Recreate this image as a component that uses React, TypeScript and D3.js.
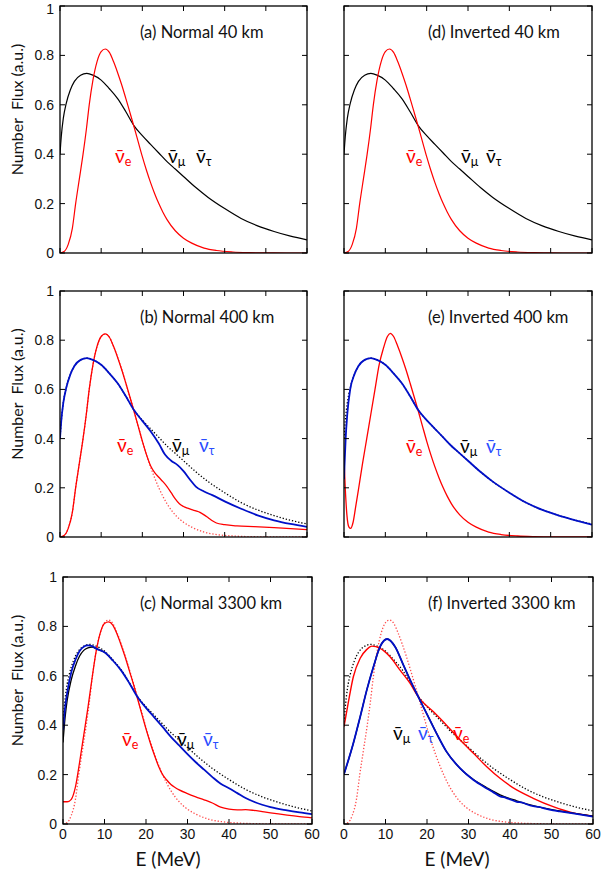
import React from "react";
import * as d3 from "d3";

// ---------- DATA ----------
const TICKS_X = [0, 10, 20, 30, 40, 50, 60];
const TICKS_Y = [0, 0.2, 0.4, 0.6, 0.8, 1];
const TICK_LABELS_Y = ["0", "0.2", "0.4", "0.6", "0.8", "1"];

// original anti-nu_mu / anti-nu_tau spectrum (black)
const E_MU0 = [0, 0.3, 0.8, 1.5, 2.5, 3.5, 5, 6.5, 8, 10, 12, 14, 16, 18, 20, 22, 24, 26, 28, 30, 33, 36, 40, 44, 48, 52, 56, 60];
const F_MU0 = [0.40, 0.47, 0.545, 0.605, 0.66, 0.695, 0.72, 0.727, 0.72, 0.70, 0.665, 0.625, 0.572, 0.515, 0.475, 0.44, 0.405, 0.37, 0.34, 0.31, 0.265, 0.225, 0.18, 0.14, 0.11, 0.087, 0.068, 0.053];

// original anti-nu_e spectrum (red)
const E_E0 = [0, 1, 2, 3, 3.8, 4.7, 5.6, 6.4, 7.1, 8, 9, 10, 11, 12, 13, 14, 15, 16, 17, 18, 19, 20, 21, 22, 23, 24, 25, 26, 28, 30, 32, 35, 38, 42, 46, 50, 55, 60];
const F_E0 = [0, 0.006, 0.035, 0.1, 0.2, 0.3, 0.4, 0.5, 0.6, 0.7, 0.775, 0.815, 0.826, 0.812, 0.775, 0.73, 0.68, 0.625, 0.568, 0.51, 0.45, 0.39, 0.335, 0.285, 0.24, 0.2, 0.165, 0.135, 0.09, 0.06, 0.04, 0.02, 0.01, 0.004, 0.0015, 0.0005, 0, 0];

// (b) Normal 400 km
const E_B_TAU = [0, 0.3, 0.8, 1.5, 2.5, 3.5, 5, 6.5, 8, 10, 12, 14, 16, 18, 20, 22, 24, 25.5, 27, 28.5, 30, 31.5, 33, 35, 37, 40, 44, 48, 52, 56, 60];
const F_B_TAU = [0.40, 0.47, 0.545, 0.605, 0.66, 0.695, 0.72, 0.727, 0.72, 0.70, 0.665, 0.625, 0.572, 0.515, 0.472, 0.43, 0.38, 0.335, 0.31, 0.293, 0.268, 0.235, 0.205, 0.185, 0.17, 0.145, 0.115, 0.088, 0.068, 0.053, 0.041];
const E_B_E = [0, 1, 2, 3, 3.8, 4.7, 5.6, 6.4, 7.1, 8, 9, 10, 11, 12, 13, 14, 15, 16, 17, 18, 19, 20, 21, 22, 23, 24, 25, 26, 27, 28, 29, 30, 31, 32, 33, 34, 35, 36, 37, 38, 40, 43, 47, 52, 56, 60];
const F_B_E = [0, 0.006, 0.035, 0.1, 0.2, 0.3, 0.4, 0.5, 0.6, 0.7, 0.775, 0.815, 0.826, 0.812, 0.775, 0.73, 0.68, 0.625, 0.568, 0.51, 0.45, 0.39, 0.335, 0.29, 0.262, 0.243, 0.225, 0.205, 0.18, 0.155, 0.135, 0.124, 0.117, 0.111, 0.106, 0.1, 0.09, 0.078, 0.066, 0.057, 0.05, 0.045, 0.042, 0.038, 0.034, 0.03];

// (c) Normal 3300 km
const E_C_E = [0, 1, 2, 3, 4, 5, 6, 7, 8, 9, 10, 11, 12, 13, 14, 15, 16, 17, 18, 19, 20, 21, 22, 23, 24, 25, 26, 27, 28, 30, 32, 34, 36, 38, 40, 42, 44, 46, 48, 50, 54, 57, 60];
const F_C_E = [0.09, 0.09, 0.1, 0.15, 0.25, 0.36, 0.47, 0.59, 0.7, 0.775, 0.812, 0.818, 0.805, 0.77, 0.725, 0.675, 0.62, 0.565, 0.505, 0.445, 0.385, 0.33, 0.28, 0.235, 0.2, 0.178, 0.16, 0.148, 0.138, 0.123, 0.11, 0.098, 0.085, 0.068, 0.06, 0.057, 0.058, 0.055, 0.05, 0.045, 0.036, 0.03, 0.025];
const E_C_TAU = [0, 0.5, 1, 2, 3, 4, 5, 6, 7, 8, 10, 12, 14, 16, 18, 20, 22, 24, 26, 28, 30, 32, 34, 36, 38, 40, 42, 44, 46, 48, 50, 54, 57, 60];
const F_C_TAU = [0.38, 0.47, 0.53, 0.615, 0.665, 0.7, 0.718, 0.723, 0.72, 0.71, 0.695, 0.662, 0.622, 0.57, 0.513, 0.47, 0.432, 0.393, 0.353, 0.318, 0.283, 0.25, 0.22, 0.19, 0.163, 0.145, 0.125, 0.105, 0.09, 0.078, 0.068, 0.055, 0.047, 0.04];
const E_C_MU = [0, 0.5, 1, 2, 3, 4, 5, 6, 7, 8, 10, 12];
const F_C_MU = [0.33, 0.43, 0.5, 0.585, 0.64, 0.68, 0.703, 0.713, 0.716, 0.71, 0.695, 0.662];

// (e) Inverted 400 km
const E_E_TAU = [0, 0.15, 0.4, 0.8, 1.5, 2.5, 3.5, 5, 6.5, 8, 10, 12, 14, 16, 18, 20, 22, 24, 26, 28, 30, 33, 36, 40, 44, 48, 52, 56, 60];
const F_E_TAU = [0.235, 0.3, 0.4, 0.5, 0.6, 0.66, 0.695, 0.72, 0.727, 0.72, 0.70, 0.665, 0.625, 0.572, 0.515, 0.475, 0.44, 0.405, 0.37, 0.34, 0.31, 0.265, 0.225, 0.18, 0.14, 0.11, 0.087, 0.068, 0.05];
const E_E_E = [0, 0.3, 0.7, 1.2, 1.6, 2.2, 2.8, 3.5, 4.5, 5.5, 6.5, 7.5, 8.5, 9.5, 10.5, 11.2, 12, 13, 14, 15, 16, 17, 18, 19, 20, 21, 22, 23, 24, 25, 26, 28, 30, 32, 35, 38, 42, 46, 50, 55, 60];
const F_E_E = [0.32, 0.2, 0.09, 0.04, 0.035, 0.06, 0.12, 0.193, 0.3, 0.4, 0.5, 0.6, 0.7, 0.765, 0.815, 0.828, 0.815, 0.775, 0.73, 0.68, 0.625, 0.568, 0.51, 0.45, 0.39, 0.335, 0.285, 0.24, 0.2, 0.165, 0.135, 0.09, 0.06, 0.04, 0.02, 0.01, 0.004, 0.0015, 0.0005, 0, 0];

// (f) Inverted 3300 km
const E_F_E = [0, 1, 2.25, 3.9, 5.5, 6.7, 8.7, 11.1, 13.5, 15.9, 17.9, 21.5, 24.7, 28, 31.2, 34.4, 37.6, 41.6, 45.6, 50.4, 55.2, 60];
const F_F_E = [0.394, 0.488, 0.596, 0.671, 0.707, 0.72, 0.711, 0.677, 0.623, 0.57, 0.515, 0.455, 0.4, 0.34, 0.286, 0.232, 0.185, 0.138, 0.104, 0.07, 0.045, 0.032];
const E_F_TAU = [0, 2.25, 3.9, 5.5, 7.1, 8.7, 10.4, 12.3, 14.3, 16.3, 17.9, 19.9, 22.3, 24.7, 28, 31.2, 34.4, 36, 37.6, 39, 40, 41.6, 43, 44, 45.6, 47, 48.5, 50.4, 52, 55.2, 60];
const F_F_TAU = [0.202, 0.327, 0.434, 0.543, 0.637, 0.718, 0.749, 0.718, 0.644, 0.57, 0.515, 0.448, 0.367, 0.293, 0.225, 0.178, 0.144, 0.128, 0.112, 0.106, 0.1, 0.09, 0.087, 0.08, 0.072, 0.069, 0.062, 0.055, 0.051, 0.043, 0.03];
const E_F_MU = [0, 2.25, 3.9, 5.5, 7.1, 8.7, 10.4, 12.3, 14.3, 16.3, 17.9, 19.9, 22.3, 24.7, 28, 31.2, 34.4, 37.6, 41.6, 45.6, 50.4, 55.2, 60];
const F_F_MU = [0.202, 0.327, 0.434, 0.543, 0.637, 0.718, 0.749, 0.718, 0.644, 0.57, 0.515, 0.448, 0.367, 0.293, 0.225, 0.18, 0.147, 0.118, 0.094, 0.074, 0.057, 0.044, 0.032];

// ---------- STYLE ----------
const RED = "#ff0000";
const RED_DOT = "#ff4a4a";
const BLUE = "#0010c8";
const BLUE_TXT = "#2a4cff";
const BLACK = "#000";
const TICK_FONT = "'Liberation Sans', Arial, Helvetica, sans-serif";
const LABEL_FONT = "Lato, 'Open Sans', sans-serif";

type Series = { E: number[]; F: number[]; color: string; width: number; dotted?: boolean };
type Leg = { sub: string; x: number; color: string };

const solid = (E: number[], F: number[], color: string, width = 1.2): Series => ({ E, F, color, width });
const dotted = (E: number[], F: number[], color: string): Series => ({ E, F, color, width: 1.3, dotted: true });

const PANELS = [
  {
    id: "a", title: "(a) Normal 40 km", l: 60, r: 307, t: 6, b: 253, showY: true, showX: false, titleX: 140,
    legY: 163,
    legend: [{ sub: "e", x: 115, color: RED }, { sub: "μ", x: 168, color: BLACK }, { sub: "τ", x: 196, color: BLACK }],
    series: [solid(E_MU0, F_MU0, BLACK), solid(E_E0, F_E0, RED)],
  },
  {
    id: "d", title: "(d) Inverted 40 km", l: 344, r: 592, t: 6, b: 253, showY: false, showX: false, titleX: 428,
    legY: 163,
    legend: [{ sub: "e", x: 406, color: RED }, { sub: "μ", x: 461, color: BLACK }, { sub: "τ", x: 486, color: BLACK }],
    series: [solid(E_MU0, F_MU0, BLACK), solid(E_E0, F_E0, RED)],
  },
  {
    id: "b", title: "(b) Normal 400 km", l: 60, r: 307, t: 291, b: 537, showY: true, showX: false, titleX: 140,
    legY: 452,
    legend: [{ sub: "e", x: 117, color: RED }, { sub: "μ", x: 172, color: BLACK }, { sub: "τ", x: 199, color: BLUE_TXT }],
    series: [dotted(E_MU0, F_MU0, BLACK), dotted(E_E0, F_E0, RED_DOT), solid(E_B_E, F_B_E, RED, 1.3), solid(E_B_TAU, F_B_TAU, BLUE, 1.8)],
  },
  {
    id: "e", title: "(e) Inverted 400 km", l: 344, r: 592, t: 291, b: 537, showY: false, showX: false, titleX: 428,
    legY: 453,
    legend: [{ sub: "e", x: 406, color: RED }, { sub: "μ", x: 460, color: BLACK }, { sub: "τ", x: 486, color: BLUE_TXT }],
    series: [dotted(E_MU0, F_MU0, BLACK), solid(E_E_E, F_E_E, RED, 1.3), solid(E_E_TAU, F_E_TAU, BLUE, 1.8)],
  },
  {
    id: "c", title: "(c) Normal 3300 km", l: 63, r: 312, t: 577, b: 824, showY: true, showX: true, titleX: 140,
    legY: 746,
    legend: [{ sub: "e", x: 122, color: RED }, { sub: "μ", x: 177, color: BLACK }, { sub: "τ", x: 203, color: BLUE_TXT }],
    series: [dotted(E_MU0, F_MU0, BLACK), dotted(E_E0, F_E0, RED_DOT), solid(E_C_E, F_C_E, RED, 1.3), solid(E_C_MU, F_C_MU, BLACK, 1.3), solid(E_C_TAU, F_C_TAU, BLUE, 1.8)],
  },
  {
    id: "f", title: "(f) Inverted 3300 km", l: 344, r: 593, t: 577, b: 824, showY: false, showX: true, titleX: 428,
    legY: 740,
    legend: [{ sub: "μ", x: 393, color: BLACK }, { sub: "τ", x: 418, color: BLUE_TXT }, { sub: "e", x: 453, color: RED }],
    series: [dotted(E_MU0, F_MU0, BLACK), dotted(E_E0, F_E0, RED_DOT), solid(E_F_E, F_F_E, RED, 1.4), solid(E_F_MU, F_F_MU, BLACK, 1.3), solid(E_F_TAU, F_F_TAU, BLUE, 1.8)],
  },
];

function Panel({ p }: { p: (typeof PANELS)[number] }) {
  const x = d3.scaleLinear().domain([0, 60]).range([p.l, p.r]);
  const y = d3.scaleLinear().domain([0, 1]).range([p.b, p.t]);
  const line = d3
    .line<[number, number]>()
    .x((d) => x(d[0]))
    .y((d) => y(d[1]))
    .curve(d3.curveMonotoneX);
  const clipId = `clip-${p.id}`;
  const tl = 5;
  return (
    <g>
      <defs>
        <clipPath id={clipId}>
          <rect x={p.l} y={p.t} width={p.r - p.l} height={p.b - p.t} />
        </clipPath>
      </defs>
      <g clipPath={`url(#${clipId})`}>
        {p.series.map((s, i) => (
          <path
            key={i}
            d={line(s.E.map((e, k) => [e, s.F[k]] as [number, number])) || ""}
            fill="none"
            stroke={s.color}
            strokeWidth={s.width}
            strokeDasharray={s.dotted ? "1.3 1.9" : undefined}
            strokeLinejoin="round"
          />
        ))}
      </g>
      {TICKS_X.map((t) => (
        <g key={"x" + t}>
          <line x1={x(t)} x2={x(t)} y1={p.b} y2={p.b - tl} stroke="#000" strokeWidth={1} />
          <line x1={x(t)} x2={x(t)} y1={p.t} y2={p.t + tl} stroke="#000" strokeWidth={1} />
        </g>
      ))}
      {TICKS_Y.map((t) => (
        <g key={"y" + t}>
          <line x1={p.l} x2={p.l + tl} y1={y(t)} y2={y(t)} stroke="#000" strokeWidth={1} />
          <line x1={p.r} x2={p.r - tl} y1={y(t)} y2={y(t)} stroke="#000" strokeWidth={1} />
        </g>
      ))}
      <rect x={p.l} y={p.t} width={p.r - p.l} height={p.b - p.t} fill="none" stroke="#000" strokeWidth={1.3} />
      {p.showY &&
        TICKS_Y.map((t, i) => (
          <text key={"yl" + t} x={p.l - 6} y={Math.max(y(t), 9)} dy="0.36em" textAnchor="end" fontFamily={TICK_FONT} fontSize={14} fill="#111">
            {TICK_LABELS_Y[i]}
          </text>
        ))}
      {p.showX &&
        TICKS_X.map((t) => (
          <text key={"xl" + t} x={x(t)} y={p.b + 15} textAnchor="middle" fontFamily={TICK_FONT} fontSize={14} fill="#111">
            {t}
          </text>
        ))}
      <text x={p.titleX} y={p.t + 32} fontFamily={LABEL_FONT} fontSize={16.5} fill="#111">
        {p.title}
      </text>
      {p.legend.map((lg: Leg, i: number) => (
        <text key={"lg" + i} x={lg.x} y={p.legY} fontFamily={LABEL_FONT} fill={lg.color}>
          <tspan fontSize={19}>{"\u03BD\u0304"}</tspan>
          <tspan fontSize={12.5} dy={3}>{lg.sub}</tspan>
        </text>
      ))}
    </g>
  );
}

export default function App() {
  return (
    <svg width={603} height={878} style={{ position: "absolute", left: 0, top: 0, background: "#fff" }}>
      <rect x={0} y={0} width={603} height={878} fill="#fff" />
      {PANELS.map((p) => (
        <Panel key={p.id} p={p} />
      ))}
      {[{ t: 6, b: 253 }, { t: 291, b: 537 }, { t: 577, b: 824 }].map((r, i) => (
        <text
          key={"ylab" + i}
          transform={`translate(23, ${(r.t + r.b) / 2 - 20}) rotate(-90)`}
          textAnchor="middle"
          fontFamily={LABEL_FONT}
          fontSize={16}
          fill="#111"
          style={{ whiteSpace: "pre" }}
        >
          {"Number  Flux (a.u.)"}
        </text>
      ))}
      <text x={168} y={866} textAnchor="middle" fontFamily={LABEL_FONT} fontSize={19} fill="#111">
        E (MeV)
      </text>
      <text x={457} y={866} textAnchor="middle" fontFamily={LABEL_FONT} fontSize={19} fill="#111">
        E (MeV)
      </text>
    </svg>
  );
}
